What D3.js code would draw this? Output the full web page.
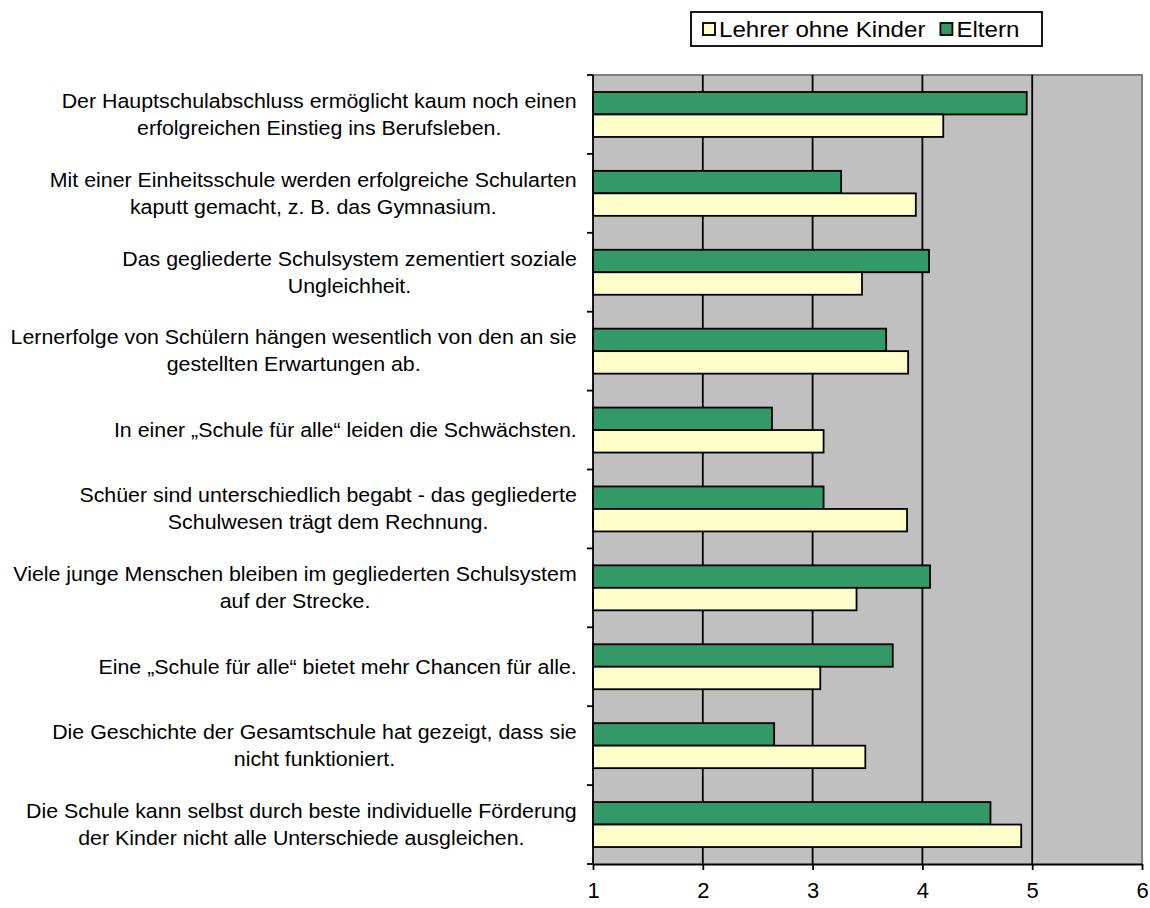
<!DOCTYPE html>
<html>
<head>
<meta charset="utf-8">
<script src="https://cdn.jsdelivr.net/npm/d3@7"></script>
<style>
  html, body { margin: 0; padding: 0; background: #ffffff; }
  svg { display: block; font-family: "Liberation Sans", Arial, sans-serif; }
</style>
</head>
<body>
<svg id="chart" width="1150" height="908"></svg>
<script>
// Statements (each entry is a list of wrapped lines)
const statements = [
  ["Der Hauptschulabschluss ermöglicht kaum noch einen", "erfolgreichen Einstieg ins Berufsleben."],
  ["Mit einer Einheitsschule werden erfolgreiche Schularten", "kaputt gemacht, z. B. das Gymnasium."],
  ["Das gegliederte Schulsystem zementiert soziale", "Ungleichheit."],
  ["Lernerfolge von Schülern hängen wesentlich von den an sie", "gestellten Erwartungen ab."],
  ["In einer „Schule für alle“ leiden die Schwächsten."],
  ["Schüer sind unterschiedlich begabt - das gegliederte", "Schulwesen trägt dem Rechnung."],
  ["Viele junge Menschen bleiben im gegliederten Schulsystem", "auf der Strecke."],
  ["Eine „Schule für alle“ bietet mehr Chancen für alle."],
  ["Die Geschichte der Gesamtschule hat gezeigt, dass sie", "nicht funktioniert."],
  ["Die Schule kann selbst durch beste individuelle Förderung", "der Kinder nicht alle Unterschiede ausgleichen."]
];

// Mean agreement per statement
const eltern = [4.95, 3.26, 4.06, 3.67, 2.63, 3.10, 4.07, 3.73, 2.65, 4.62];
const lehrerOhneKinder = [4.19, 3.94, 3.45, 3.87, 3.10, 3.86, 3.40, 3.07, 3.48, 4.90];

const seriesNames = ["Eltern", "Lehrer ohne Kinder"];
const legendOrder = ["Lehrer ohne Kinder", "Eltern"];
const xTicks = [1, 2, 3, 4, 5, 6];

const colors = { "Eltern": "#339966", "Lehrer ohne Kinder": "#FFFFCC" };

// text is set slightly wide
const stretch = 1.096;

const svg = d3.select("#chart");
const plot = { left: 593, right: 1142, top: 75, bottom: 864 };

const x = d3.scaleLinear().domain([1, 6]).range([plot.left, plot.right]);
const y = d3.scaleBand().domain(d3.range(statements.length))
  .range([plot.top, plot.bottom]).paddingInner(0.43).paddingOuter(0.215);
const ySub = d3.scaleBand().domain(seriesNames).range([0, y.bandwidth()]);
const yCat = d3.scaleBand().domain(d3.range(statements.length)).range([plot.top, plot.bottom]);

// plot background
svg.append("rect")
  .attr("x", plot.left).attr("y", plot.top)
  .attr("width", plot.right - plot.left).attr("height", plot.bottom - plot.top)
  .attr("fill", "#C0C0C0");

// top and right frame
svg.append("path")
  .attr("d", `M${plot.left},${plot.top}H${plot.right}V${plot.bottom}`)
  .attr("fill", "none").attr("stroke", "#808080").attr("stroke-width", 2);

// vertical gridlines
svg.append("g").selectAll("line")
  .data(xTicks.filter(t => t > 1 && t < 6))
  .join("line")
  .attr("x1", d => x(d)).attr("x2", d => x(d))
  .attr("y1", plot.top).attr("y2", plot.bottom)
  .attr("stroke", "#000").attr("stroke-width", 1.8);

// bars
const rows = statements.map((s, i) => ({ i, values: { "Eltern": eltern[i], "Lehrer ohne Kinder": lehrerOhneKinder[i] } }));
const groups = svg.append("g").selectAll("g")
  .data(rows).join("g")
  .attr("transform", d => `translate(0,${y(d.i)})`);
groups.selectAll("rect")
  .data(d => seriesNames.map(k => ({ key: k, value: d.values[k] })))
  .join("rect")
  .attr("x", x(1))
  .attr("y", d => ySub(d.key))
  .attr("width", d => x(d.value) - x(1))
  .attr("height", ySub.bandwidth())
  .attr("fill", d => colors[d.key])
  .attr("stroke", "#000").attr("stroke-width", 1.8);

// bottom axis
const xAxis = d3.axisBottom(x).tickValues(xTicks).tickFormat(d3.format("d"))
  .tickSizeInner(6).tickSizeOuter(0).tickPadding(12);
const gx = svg.append("g").attr("transform", `translate(0,${plot.bottom})`).call(xAxis);
gx.select(".domain").attr("stroke", "#000").attr("stroke-width", 1.8);
gx.selectAll(".tick line").attr("stroke", "#000").attr("stroke-width", 1.8);
gx.selectAll(".tick text").attr("font-size", 22).attr("fill", "#000")
  .attr("font-family", "Liberation Sans, Arial, sans-serif");

// left axis line and category boundary ticks
svg.append("line")
  .attr("x1", plot.left).attr("x2", plot.left)
  .attr("y1", plot.top).attr("y2", plot.bottom)
  .attr("stroke", "#000").attr("stroke-width", 1.8);
const boundaries = d3.range(statements.length + 1).map(i => i < statements.length ? yCat(i) : plot.bottom);
svg.append("g").selectAll("line")
  .data(boundaries).join("line")
  .attr("x1", plot.left - 6).attr("x2", plot.left)
  .attr("y1", d => d).attr("y2", d => d)
  .attr("stroke", "#000").attr("stroke-width", 1.8);

// category labels: lines centred on each other, block right-aligned to the axis
const labelRight = 577;
const fontSize = 19.5;
const lineH = 27;
const labels = svg.append("g").attr("font-size", fontSize).attr("fill", "#000");
statements.forEach((lines, i) => {
  const cy = yCat(i) + yCat.bandwidth() / 2;
  const g = labels.append("g");
  const texts = lines.map((ln, j) => g.append("text")
    .attr("y", cy + (j - (lines.length - 1) / 2) * lineH)
    .attr("dy", "0.35em")
    .attr("text-anchor", "middle")
    .text(ln));
  const maxW = d3.max(texts, t => t.node().getComputedTextLength()) * stretch;
  const cx = labelRight - maxW / 2;
  g.attr("transform", `translate(${cx},0) scale(${stretch},1)`);
  texts.forEach(t => t.attr("x", 0));
});

// legend
const legend = svg.append("g");
const legBox = { x: 691, y: 12, w: 351, h: 34 };
legend.append("rect")
  .attr("x", legBox.x).attr("y", legBox.y).attr("width", legBox.w).attr("height", legBox.h)
  .attr("fill", "#fff").attr("stroke", "#000").attr("stroke-width", 1.8);
let lx = legBox.x + 12;
legendOrder.forEach(name => {
  legend.append("rect")
    .attr("x", lx).attr("y", legBox.y + 11).attr("width", 12).attr("height", 12)
    .attr("fill", colors[name]).attr("stroke", "#000").attr("stroke-width", 1.8);
  const tg = legend.append("g")
    .attr("transform", `translate(${lx + 16},${legBox.y + legBox.h / 2}) scale(${stretch},1)`);
  const t = tg.append("text")
    .attr("x", 0).attr("y", 0).attr("dy", "0.35em")
    .attr("font-size", 22).attr("fill", "#000").text(name);
  lx += 16 + t.node().getComputedTextLength() * stretch + 15;
});
</script>
</body>
</html>
